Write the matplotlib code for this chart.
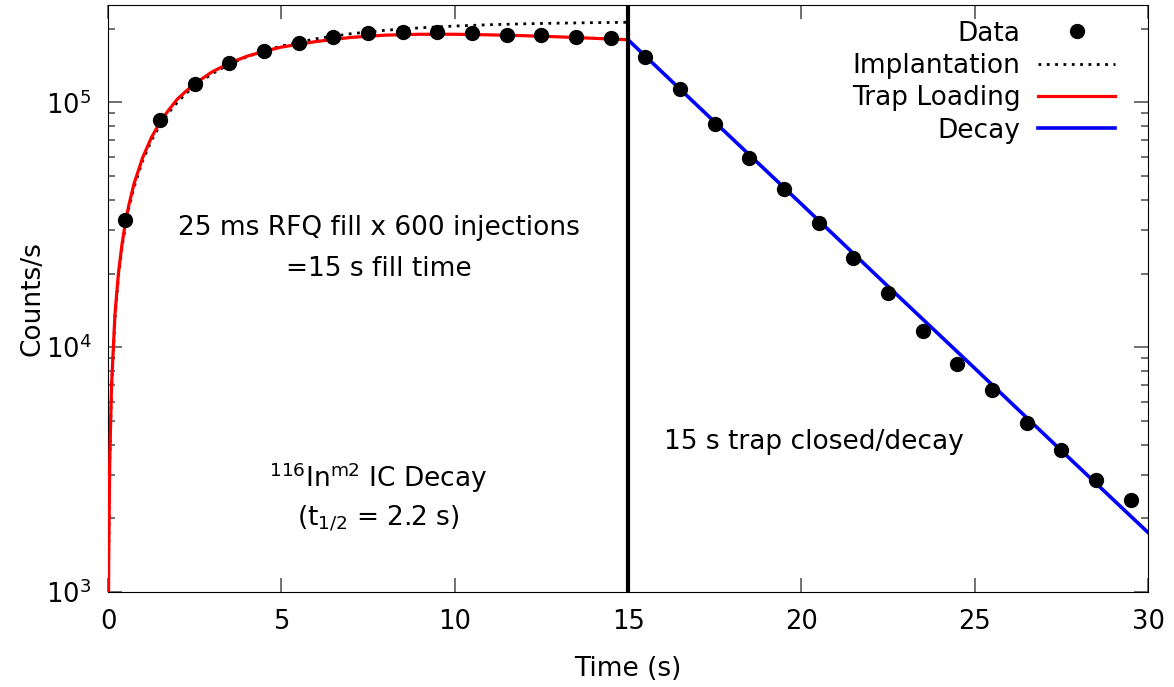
import matplotlib
matplotlib.use('Agg')
import matplotlib.pyplot as plt
from matplotlib.ticker import LogLocator

plt.rcParams['font.family'] = 'DejaVu Sans'
plt.rcParams['mathtext.fontset'] = 'dejavusans'

# measured counts (points)
data_t = [0.5, 1.5, 2.5, 3.5, 4.5, 5.5, 6.5, 7.5, 8.5, 9.5, 10.5, 11.5, 12.5, 13.5, 14.5,
          15.5, 16.5, 17.5, 18.5, 19.5, 20.5, 21.5, 22.5, 23.5, 24.5, 25.5, 26.5, 27.5, 28.5, 29.5]
data_counts = [3.30e4, 8.45e4, 1.19e5, 1.44e5, 1.62e5, 1.75e5, 1.85e5, 1.91e5, 1.93e5, 1.93e5,
               1.91e5, 1.89e5, 1.88e5, 1.85e5, 1.83e5,
               1.53e5, 1.13e5, 8.13e4, 5.95e4, 4.41e4, 3.21e4, 2.31e4, 1.66e4, 1.16e4, 8.53e3,
               6.68e3, 4.90e3, 3.80e3, 2.86e3, 2.38e3]

# fit curves
impl_t = [0.01, 0.02, 0.05, 0.1, 0.2, 0.3, 0.4, 0.5, 0.6, 0.75, 1, 1.25, 1.5, 1.75, 2,
          2.25, 2.5, 3, 3.5, 4, 4.5, 5, 6, 7, 8, 9, 10, 11, 12, 13, 14, 15]
impl_counts = [674, 1346, 3.33e3, 6.64e3, 1.31e4, 1.93e4, 2.53e4, 3.12e4, 3.69e4, 4.50e4,
               5.78e4, 6.97e4, 8.06e4, 9.07e4, 1.00e5, 1.086e5, 1.167e5, 1.307e5, 1.43e5,
               1.532e5, 1.621e5, 1.697e5, 1.817e5, 1.905e5, 1.968e5, 2.014e5, 2.048e5,
               2.073e5, 2.091e5, 2.104e5, 2.114e5, 2.121e5]

trap_t = impl_t
trap_counts = [700, 1400, 3.45e3, 6.9e3, 1.36e4, 2.0e4, 2.61e4, 3.22e4, 3.80e4, 4.65e4,
               5.95e4, 7.17e4, 8.3e4, 9.3e4, 1.03e5, 1.11e5, 1.19e5, 1.33e5, 1.445e5,
               1.54e5, 1.615e5, 1.68e5, 1.77e5, 1.84e5, 1.88e5, 1.895e5, 1.895e5,
               1.885e5, 1.87e5, 1.85e5, 1.825e5, 1.80e5]

decay_t = [15, 17.5, 20, 22.5, 25, 27.5, 30]
decay_counts = [1.80e5, 8.3e4, 3.84e4, 1.77e4, 8.2e3, 3.78e3, 1.75e3]

fig = plt.figure(figsize=(11.74, 6.87), dpi=100)
ax = fig.add_axes([0.092, 0.138, 0.886, 0.855])

ax.plot(data_t, data_counts, 'o', color='black', markersize=10, label='Data', zorder=5)
ax.plot(impl_t, impl_counts, color='black', lw=2, linestyle=(0, (1, 2)), label='Implantation')
ax.plot(trap_t, trap_counts, color='red', lw=2.3, label='Trap Loading', zorder=4)
ax.plot(decay_t, decay_counts, color='blue', lw=2.6, label='Decay', zorder=4)
ax.axvline(15, color='black', lw=3, zorder=6)

ax.set_yscale('log')
ax.set_xlim(0, 30)
ax.set_ylim(1e3, 2.5e5)
ax.yaxis.set_major_locator(LogLocator(base=10, numticks=10))
ax.yaxis.set_minor_locator(LogLocator(base=10, subs=range(2, 10), numticks=20))
ax.tick_params(which='both', direction='in', top=True, right=True, labelsize=18.5, color='0.35')
ax.tick_params(which='major', length=10, width=1.2)
ax.tick_params(which='minor', length=5, width=1.2)
ax.tick_params(axis='x', pad=12)
ax.tick_params(axis='y', pad=12)
ax.set_xlabel('Time (s)', fontsize=19, labelpad=15)
ax.set_ylabel('Counts/s', fontsize=19, labelpad=0)

ax.text(0.26, 0.62, '25 ms RFQ fill x 600 injections', transform=ax.transAxes,
        fontsize=19, ha='center', va='center')
ax.text(0.26, 0.55, '=15 s fill time', transform=ax.transAxes,
        fontsize=19, ha='center', va='center')
ax.text(0.535, 0.255, '15 s trap closed/decay', transform=ax.transAxes,
        fontsize=19, ha='left', va='center')
ax.text(0.26, 0.195, r'$^{116}$In$^{\mathrm{m2}}$ IC Decay', transform=ax.transAxes,
        fontsize=19, ha='center', va='center')
ax.text(0.26, 0.125, r'(t$_{1/2}$ = 2.2 s)', transform=ax.transAxes,
        fontsize=19, ha='center', va='center')

ax.legend(loc='upper right', bbox_to_anchor=(0.968, 0.973), frameon=False, fontsize=19,
          markerfirst=False, handlelength=2.9, labelspacing=0.24, borderaxespad=0,
          borderpad=0, handletextpad=0.68)

fig.savefig('out.png', dpi=100)
